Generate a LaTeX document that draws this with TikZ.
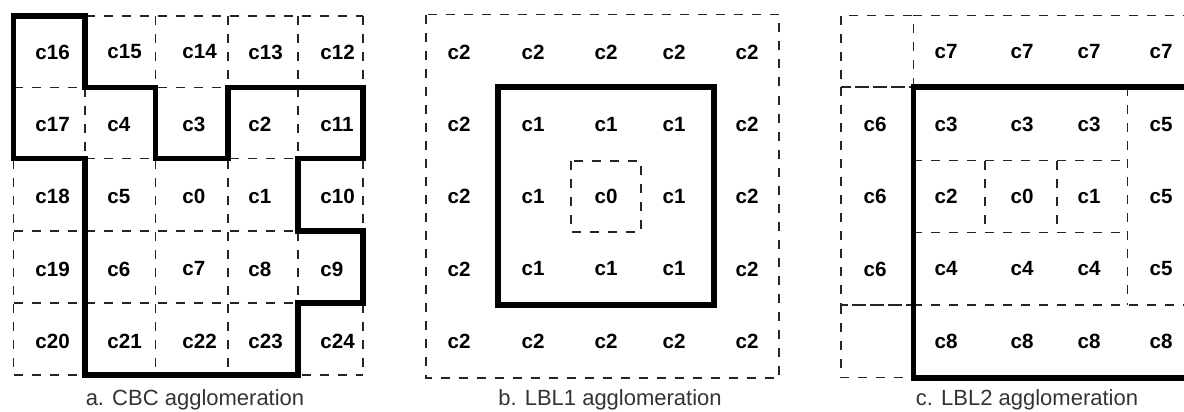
\documentclass[tikz,border=0pt]{standalone}
\usepackage{fontspec}
\setmainfont{Liberation Sans}

\tikzset{
  cell/.style={font=\fontsize{10.3}{12}\selectfont\bfseries, inner sep=0pt},
  gridline/.style={line width=0.7pt, dash pattern=on 4.5pt off 4.5pt, black!85},
  boundary/.style={line width=2.8pt, line join=miter},
  caption/.style={font=\fontsize{11}{13}\selectfont, text=black!80, anchor=base}
}

\begin{document}
\begin{tikzpicture}[x=0.5pt, y=-0.5pt]
    \clip (0,0) rectangle (1184,412);

    % a. CBC: dashed grid
    \foreach \x in {13.5,85,155.5,228,298,363}
        \draw[gridline] (\x,16) -- (\x,375);
    \foreach \y in {16,87.5,158.5,231,303,375}
        \draw[gridline] (13.5,\y) -- (363,\y);

    % a. CBC: cluster boundary
    \draw[boundary] (13.5,16) -- (85,16) -- (85,87.5) -- (155.5,87.5) -- (155.5,158.5)
        -- (228,158.5) -- (228,87.5) -- (363,87.5) -- (363,158.5) -- (298,158.5)
        -- (298,231) -- (363,231) -- (363,303) -- (298,303) -- (298,375)
        -- (85,375) -- (85,158.5) -- (13.5,158.5) -- cycle;

    % a. CBC: cells
    \foreach \x/\t in {35/16,107/15,182/14,248/13,320/12}
        \node[cell, anchor=west] (a\t) at (\x,52) {c\t};
    \foreach \x/\t in {35/17,107/4,182/3,248/2,320/11}
        \node[cell, anchor=west] (a\t) at (\x,124.5) {c\t};
    \foreach \x/\t in {35/18,107/5,182/0,248/1,320/10}
        \node[cell, anchor=west] (a\t) at (\x,196.5) {c\t};
    \foreach \x/\t in {35/19,107/6,182/7,248/8,320/9}
        \node[cell, anchor=west] (a\t) at (\x,269) {c\t};
    \foreach \x/\t in {35/20,107/21,182/22,248/23,320/24}
        \node[cell, anchor=west] (a\t) at (\x,341.5) {c\t};

    \node[caption] (capa) at (195,405.5) {a. CBC agglomeration};

    % b. LBL1: layers
    \draw[gridline] (426,14.5) rectangle (779,378);
    \draw[boundary] (498,87) rectangle (714,305);
    \draw[gridline] (571,161) rectangle (641,232);

    % b. LBL1: cells
    \foreach \x/\t [count=\j] in {459/2,533/2,606/2,674/2,747/2}
        \node[cell] (b1\j) at (\x,52) {c\t};
    \foreach \x/\t [count=\j] in {459/2,533/1,606/1,674/1,747/2}
        \node[cell] (b2\j) at (\x,124.5) {c\t};
    \foreach \x/\t [count=\j] in {459/2,533/1,606/0,674/1,747/2}
        \node[cell] (b3\j) at (\x,196.5) {c\t};
    \foreach \x/\t [count=\j] in {459/2,533/1,606/1,674/1,747/2}
        \node[cell] (b4\j) at (\x,269) {c\t};
    \foreach \x/\t [count=\j] in {459/2,533/2,606/2,674/2,747/2}
        \node[cell] (b5\j) at (\x,341.5) {c\t};

    \node[caption] (capb) at (610,405.5) {b. LBL1 agglomeration};

    % c. LBL2: layers
    \draw[gridline] (841,15.7) rectangle (913.3,87);
    \draw[gridline] (841,87) rectangle (913.3,305);
    \draw[gridline] (841,305) rectangle (913.3,377.7);
    \draw[gridline] (913.3,15.7) -- (1199,15.7);
    \draw[gridline] (913.3,305) -- (1199,305);
    \draw[gridline] (1127.3,87) -- (1127.3,305);
    \draw[gridline] (913.3,160.5) -- (1127.3,160.5);
    \draw[gridline] (913.3,232.5) -- (1127.3,232.5);
    \draw[gridline] (985,160.5) -- (985,232.5);
    \draw[gridline] (1057,160.5) -- (1057,232.5);
    \draw[boundary] (913.3,87) rectangle (1199,377.7);

    % c. LBL2: cells
    \foreach \x/\t [count=\j from 2] in {946/7,1022/7,1089/7,1161/7}
        \node[cell] (c1\j) at (\x,52) {c\t};
    \foreach \x/\t [count=\j] in {875/6,946/3,1022/3,1089/3,1161/5}
        \node[cell] (c2\j) at (\x,124.5) {c\t};
    \foreach \x/\t [count=\j] in {875/6,946/2,1022/0,1089/1,1161/5}
        \node[cell] (c3\j) at (\x,196.5) {c\t};
    \foreach \x/\t [count=\j] in {875/6,946/4,1022/4,1089/4,1161/5}
        \node[cell] (c4\j) at (\x,269) {c\t};
    \foreach \x/\t [count=\j from 2] in {946/8,1022/8,1089/8,1161/8}
        \node[cell] (c5\j) at (\x,341.5) {c\t};

    \node[caption] (capc) at (1027,405.5) {c. LBL2 agglomeration};
\end{tikzpicture}
\end{document}
